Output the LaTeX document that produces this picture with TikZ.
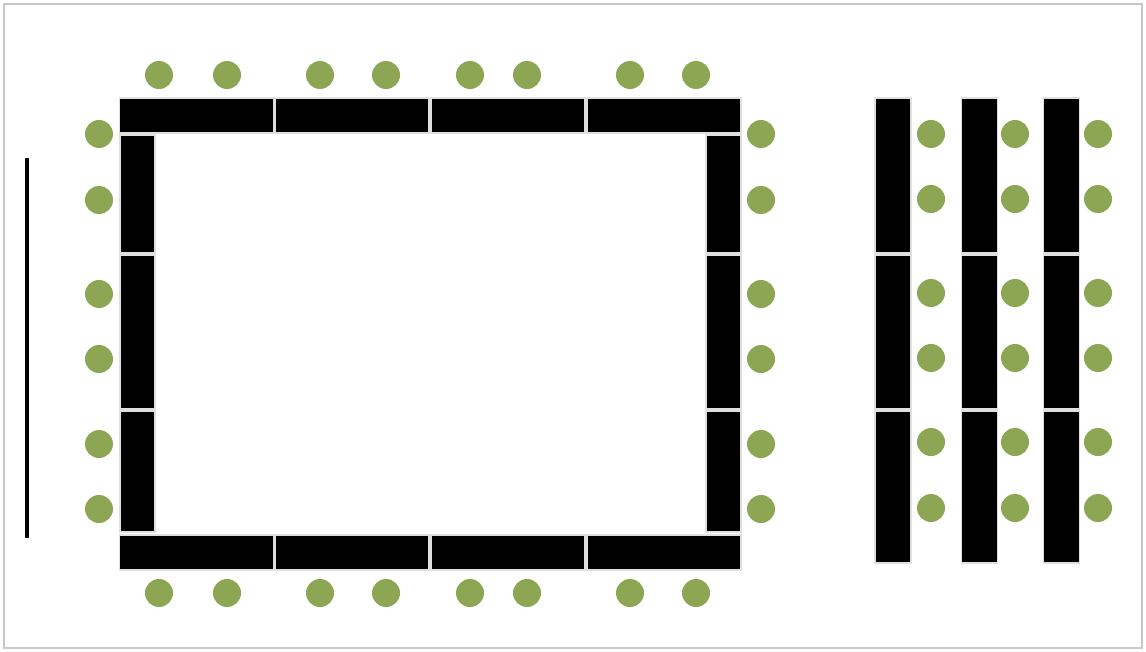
\documentclass[tikz,border=0pt]{standalone}
\usepackage[dvipsnames,rgb]{xcolor}
\usepackage{tikz}
\usetikzlibrary{positioning, shadows}
\definecolor{chairgreen}{RGB}{140,166,84}
\definecolor{frameedge}{RGB}{200,200,200}

\begin{document}
\begin{tikzpicture}[x=0.02cm, y=-0.02cm,
        table/.style={rectangle, fill=black, draw=gray!25, line width=0.6pt, inner sep=0pt},
        htable/.style={table, minimum width=154*0.02cm, minimum height=35*0.02cm},
        chair/.style={circle, fill=chairgreen, inner sep=0pt, minimum size=28*0.02cm}]
        % Frame
        \useasboundingbox (0, 0) rectangle (1146, 652);
        \draw[frameedge, line width=1.2pt, fill=white, drop shadow={shadow xshift=0.6pt, shadow yshift=-0.6pt, opacity=0.25}] (4, 4) rectangle (1142, 648);

        % Board
        \node[rectangle, fill=black, inner sep=0pt, minimum width=4*0.02cm, minimum height=380*0.02cm] (board) at (27, 348) {};

        % Top and bottom tables
        \foreach \x [count=\i] in {196.5, 352, 508, 664} {
            \node[htable] (top\i) at (\x, 115.5) {};
            \node[htable] (bot\i) at (\x, 552.5) {};
        }

        % Side tables
        \foreach \y/\h [count=\i] in {194/118, 332/154, 471.5/121} {
            \node[table, minimum width=35*0.02cm, minimum height=\h*0.02cm] (left\i) at (137.5, \y) {};
            \node[table, minimum width=35*0.02cm, minimum height=\h*0.02cm] (right\i) at (723.5, \y) {};
        }

        % Chairs round the square
        \foreach \x [count=\i] in {159, 227, 320, 386, 470, 527, 630, 696} {
            \node[chair] (ctop\i) at (\x, 75) {};
            \node[chair] (cbot\i) at (\x, 593) {};
        }
        \foreach \y [count=\i] in {134, 200, 294, 359, 444, 509} {
            \node[chair] (cleft\i) at (99, \y) {};
            \node[chair] (cright\i) at (761, \y) {};
        }

        % Classroom rows
        \foreach \x/\cx [count=\j] in {893/931, 979.5/1015, 1061.5/1098} {
            \foreach \y/\h [count=\i] in {175.5/155, 332/154, 487/152} {
                \node[table, minimum width=36*0.02cm, minimum height=\h*0.02cm] (row\j-\i) at (\x, \y) {};
            }
            \foreach \y [count=\i] in {134, 199, 293, 358, 442, 508} {
                \node[chair] (crow\j-\i) at (\cx, \y) {};
            }
        }
    \end{tikzpicture}
\end{document}
